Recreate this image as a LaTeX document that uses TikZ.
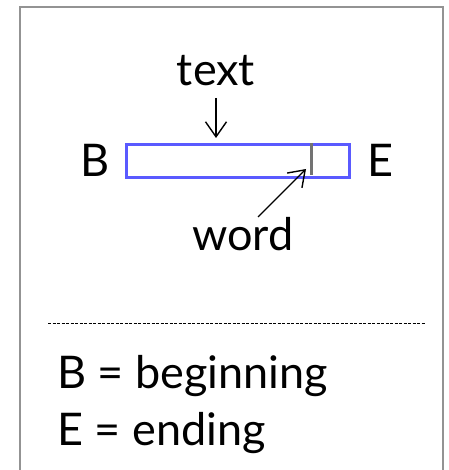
\documentclass[tikz,border=0pt]{standalone}
\usepackage{fontspec}
\setmainfont{Lato}
\usetikzlibrary{arrows.meta}
\begin{document}
\begin{tikzpicture}[x=1pt,y=-1pt,
  lbl/.style={inner sep=0pt,font=\fontsize{45}{50}\selectfont},
  ptr/.style={draw=black,line width=1.4pt,-{Straight Barb[length=15pt,width=21pt,line width=1.4pt]}},
  bar/.style={draw={rgb,255:red,90;green,90;blue,255},line width=3pt}]
\useasboundingbox (0,0) rectangle (448,470);
\clip (0,0) rectangle (448,470);
\fill[white] (0,0) rectangle (448,470);
\draw[gray!85,line width=1.3pt] (20,490) -- (20,7) -- (443,7) -- (443,490);
% text label and arrow
\node[lbl,anchor=base] (t) at (216,86) {text};
\coordinate (ta) at (216,98);
\coordinate (tb) at (216,138);
\draw[ptr] (ta) -- (tb);
% bar
\node[bar,minimum width=223pt,minimum height=33pt,inner sep=0pt,anchor=north west] (box) at (125,143) {};
\draw[gray!90!black,line width=3pt] (311,143) -- (311,175);
\coordinate (wtip) at (306,169);
% B and E
\node[lbl,anchor=base west] (b) at (80,176) {B};
\node[lbl,anchor=base west] (e) at (367,176) {E};
% word
\node[lbl,anchor=base west] (w) at (192,250) {word};
\coordinate (ws) at (258,217);
\draw[ptr] (ws) -- (wtip);
% dashed
\draw[dash pattern=on 3pt off 1.5pt,line width=1pt] (48,323) -- (425,323);
% legend
\node[lbl,anchor=base west] (l1) at (57,388) {B = beginning};
\node[lbl,anchor=base west] (l2) at (57,445) {E = ending};
\end{tikzpicture}
\end{document}
